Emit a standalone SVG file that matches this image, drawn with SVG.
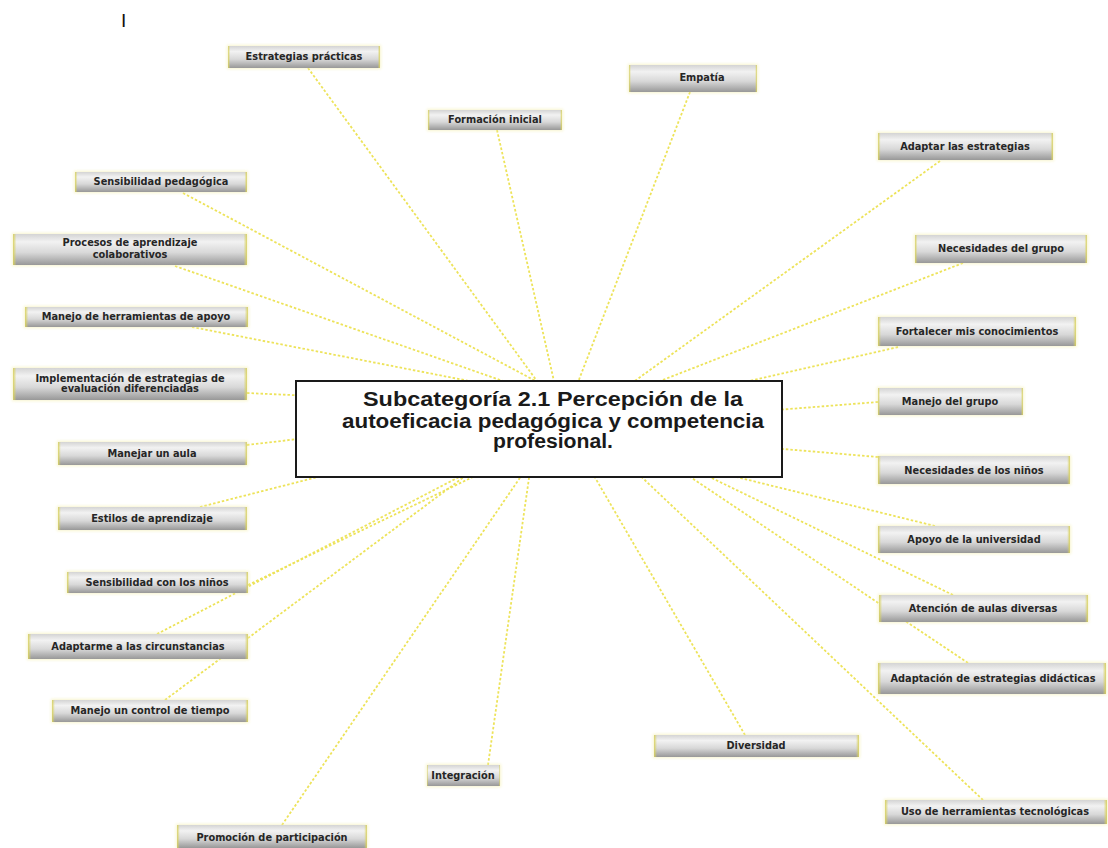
<svg xmlns="http://www.w3.org/2000/svg" width="1108" height="848" viewBox="0 0 1108 848">
  <defs>
    <linearGradient id="nodeFill" x1="0" y1="0" x2="0" y2="1">
      <stop offset="0" stop-color="#d4d4d4"/>
      <stop offset="0.25" stop-color="#f2f2f2"/>
      <stop offset="0.6" stop-color="#d8d8d8"/>
      <stop offset="1" stop-color="#989898"/>
    </linearGradient>
    <linearGradient id="nodeEnds" x1="0" y1="0" x2="1" y2="0">
      <stop offset="0" stop-color="#d9d25e" stop-opacity="0.95"/>
      <stop offset="0.015" stop-color="#d9d25e" stop-opacity="0"/>
      <stop offset="0.985" stop-color="#d9d25e" stop-opacity="0"/>
      <stop offset="1" stop-color="#d9d25e" stop-opacity="0.95"/>
    </linearGradient>
    <filter id="glow" x="-10%" y="-40%" width="120%" height="180%">
      <feGaussianBlur stdDeviation="1.6"/>
    </filter>
  </defs>
  <style>
    .edge { stroke: #ede35a; stroke-width: 1.8; stroke-dasharray: 2.5 2; fill: none; }
    .halo { fill: #f3eea6; opacity: 0.55; filter: url(#glow); }
    .box { fill: url(#nodeFill); }
    .ends { fill: url(#nodeEnds); }
    .lbl { font-family: "DejaVu Sans", Verdana, sans-serif; font-weight: bold; font-size: 9.8px; fill: #262626; text-anchor: middle; }
    .hub { fill: #ffffff; stroke: #1a1a1a; stroke-width: 2; }
    .hubtxt { font-family: "Liberation Sans", Arial, sans-serif; font-weight: bold; font-size: 20px; fill: #1a1a1a; text-anchor: middle; }
  </style>

  <rect width="1108" height="848" fill="#ffffff"/>

  <text x="121" y="27" font-family="Liberation Sans, Arial, sans-serif" font-size="19" fill="#111">I</text>

  <!-- spokes from each topic to the hub -->
  <g id="connectors">
    <line class="edge" x1="308" y1="68" x2="545" y2="392"/>
    <line class="edge" x1="497" y1="130" x2="556" y2="390"/>
    <line class="edge" x1="690" y1="92" x2="575" y2="390"/>
    <line class="edge" x1="940" y1="161" x2="600" y2="406"/>
    <line class="edge" x1="963" y1="263" x2="560" y2="420"/>
    <line class="edge" x1="898" y1="347" x2="600" y2="415"/>
    <line class="edge" x1="878" y1="402" x2="700" y2="416"/>
    <line class="edge" x1="878" y1="457" x2="700" y2="442"/>
    <line class="edge" x1="935" y1="526" x2="700" y2="468"/>
    <line class="edge" x1="953" y1="595" x2="654" y2="450"/>
    <line class="edge" x1="968" y1="663" x2="650" y2="450"/>
    <line class="edge" x1="983" y1="800" x2="613" y2="450"/>
    <line class="edge" x1="745" y1="735" x2="579" y2="450"/>
    <line class="edge" x1="488" y1="765" x2="533" y2="450"/>
    <line class="edge" x1="282" y1="825" x2="539" y2="450"/>
    <line class="edge" x1="165" y1="700" x2="500" y2="450"/>
    <line class="edge" x1="157" y1="634" x2="511" y2="450"/>
    <line class="edge" x1="248" y1="585" x2="529" y2="450"/>
    <line class="edge" x1="200" y1="507" x2="400" y2="456"/>
    <line class="edge" x1="247" y1="445" x2="400" y2="427"/>
    <line class="edge" x1="247" y1="393" x2="400" y2="400"/>
    <line class="edge" x1="192" y1="327" x2="500" y2="387"/>
    <line class="edge" x1="175" y1="266" x2="520" y2="387"/>
    <line class="edge" x1="183" y1="193" x2="545" y2="386"/>
  </g>

  <g id="hub">
    <rect class="hub" x="296" y="381" width="486" height="96"/>
    <text class="hubtxt" x="553" y="406" textLength="380" lengthAdjust="spacingAndGlyphs">Subcategoría 2.1 Percepción de la</text>
    <text class="hubtxt" x="553" y="428" textLength="422" lengthAdjust="spacingAndGlyphs">autoeficacia pedagógica y competencia</text>
    <text class="hubtxt" x="553" y="448" textLength="120" lengthAdjust="spacingAndGlyphs">profesional.</text>
  </g>

  <g id="n-estrategias-practicas">
    <rect class="halo" x="227" y="45" width="154" height="24"/>
    <rect class="box" x="228" y="46" width="152" height="22"/><rect class="ends" x="228" y="46" width="152" height="22"/>
    <text class="lbl" x="304" y="60">Estrategias prácticas</text>
  </g>
  <g id="n-empatia">
    <rect class="halo" x="628" y="64" width="130" height="29"/>
    <rect class="box" x="629" y="65" width="128" height="27"/><rect class="ends" x="629" y="65" width="128" height="27"/>
    <text class="lbl" x="702" y="81">Empatía</text>
  </g>
  <g id="n-formacion-inicial">
    <rect class="halo" x="427" y="109" width="136" height="22"/>
    <rect class="box" x="428" y="110" width="134" height="20"/><rect class="ends" x="428" y="110" width="134" height="20"/>
    <text class="lbl" x="495" y="123">Formación inicial</text>
  </g>
  <g id="n-adaptar-estrategias">
    <rect class="halo" x="877" y="132" width="177" height="29"/>
    <rect class="box" x="878" y="133" width="175" height="27"/><rect class="ends" x="878" y="133" width="175" height="27"/>
    <text class="lbl" x="965" y="150">Adaptar las estrategias</text>
  </g>
  <g id="n-necesidades-grupo">
    <rect class="halo" x="914" y="234" width="174" height="30"/>
    <rect class="box" x="915" y="235" width="172" height="28"/><rect class="ends" x="915" y="235" width="172" height="28"/>
    <text class="lbl" x="1001" y="252">Necesidades del grupo</text>
  </g>
  <g id="n-sensibilidad-pedagogica">
    <rect class="halo" x="74" y="171" width="174" height="22"/>
    <rect class="box" x="75" y="172" width="172" height="20"/><rect class="ends" x="75" y="172" width="172" height="20"/>
    <text class="lbl" x="161" y="185">Sensibilidad pedagógica</text>
  </g>
  <g id="n-procesos-colaborativos">
    <rect class="halo" x="12" y="233" width="236" height="33"/>
    <rect class="box" x="13" y="234" width="234" height="31"/><rect class="ends" x="13" y="234" width="234" height="31"/>
    <text class="lbl" x="130" y="246">Procesos de aprendizaje</text>
    <text class="lbl" x="130" y="258">colaborativos</text>
  </g>
  <g id="n-herramientas-apoyo">
    <rect class="halo" x="24" y="306" width="225" height="22"/>
    <rect class="box" x="25" y="307" width="223" height="20"/><rect class="ends" x="25" y="307" width="223" height="20"/>
    <text class="lbl" x="136" y="320">Manejo de herramientas de apoyo</text>
  </g>
  <g id="n-evaluacion-diferenciada">
    <rect class="halo" x="12" y="367" width="236" height="34"/>
    <rect class="box" x="13" y="368" width="234" height="32"/><rect class="ends" x="13" y="368" width="234" height="32"/>
    <text class="lbl" x="130" y="382">Implementación de estrategias de</text>
    <text class="lbl" x="130" y="392">evaluación diferenciadas</text>
  </g>
  <g id="n-manejar-aula">
    <rect class="halo" x="57" y="441" width="191" height="25"/>
    <rect class="box" x="58" y="442" width="189" height="23"/><rect class="ends" x="58" y="442" width="189" height="23"/>
    <text class="lbl" x="152" y="457">Manejar un aula</text>
  </g>
  <g id="n-estilos-aprendizaje">
    <rect class="halo" x="57" y="506" width="191" height="25"/>
    <rect class="box" x="58" y="507" width="189" height="23"/><rect class="ends" x="58" y="507" width="189" height="23"/>
    <text class="lbl" x="152" y="522">Estilos de aprendizaje</text>
  </g>
  <g id="n-sensibilidad-ninos">
    <rect class="halo" x="66" y="571" width="183" height="23"/>
    <rect class="box" x="67" y="572" width="181" height="21"/><rect class="ends" x="67" y="572" width="181" height="21"/>
    <text class="lbl" x="157" y="586">Sensibilidad con los niños</text>
  </g>
  <g id="n-adaptarme-circunstancias">
    <rect class="halo" x="27" y="633" width="222" height="27"/>
    <rect class="box" x="28" y="634" width="220" height="25"/><rect class="ends" x="28" y="634" width="220" height="25"/>
    <text class="lbl" x="138" y="650">Adaptarme a las circunstancias</text>
  </g>
  <g id="n-control-tiempo">
    <rect class="halo" x="51" y="699" width="198" height="24"/>
    <rect class="box" x="52" y="700" width="196" height="22"/><rect class="ends" x="52" y="700" width="196" height="22"/>
    <text class="lbl" x="150" y="714">Manejo un control de tiempo</text>
  </g>
  <g id="n-fortalecer-conocimientos">
    <rect class="halo" x="877" y="316" width="200" height="31"/>
    <rect class="box" x="878" y="317" width="198" height="29"/><rect class="ends" x="878" y="317" width="198" height="29"/>
    <text class="lbl" x="977" y="335">Fortalecer mis conocimientos</text>
  </g>
  <g id="n-manejo-grupo">
    <rect class="halo" x="877" y="387" width="147" height="29"/>
    <rect class="box" x="878" y="388" width="145" height="27"/><rect class="ends" x="878" y="388" width="145" height="27"/>
    <text class="lbl" x="950" y="405">Manejo del grupo</text>
  </g>
  <g id="n-necesidades-ninos">
    <rect class="halo" x="877" y="455" width="194" height="30"/>
    <rect class="box" x="878" y="456" width="192" height="28"/><rect class="ends" x="878" y="456" width="192" height="28"/>
    <text class="lbl" x="974" y="474">Necesidades de los niños</text>
  </g>
  <g id="n-apoyo-universidad">
    <rect class="halo" x="877" y="525" width="194" height="29"/>
    <rect class="box" x="878" y="526" width="192" height="27"/><rect class="ends" x="878" y="526" width="192" height="27"/>
    <text class="lbl" x="974" y="543">Apoyo de la universidad</text>
  </g>
  <g id="n-aulas-diversas">
    <rect class="halo" x="878" y="594" width="211" height="29"/>
    <rect class="box" x="879" y="595" width="209" height="27"/><rect class="ends" x="879" y="595" width="209" height="27"/>
    <text class="lbl" x="983" y="612">Atención de aulas diversas</text>
  </g>
  <g id="n-estrategias-didacticas">
    <rect class="halo" x="877" y="662" width="230" height="33"/>
    <rect class="box" x="878" y="663" width="228" height="31"/><rect class="ends" x="878" y="663" width="228" height="31"/>
    <text class="lbl" x="993" y="682">Adaptación de estrategias didácticas</text>
  </g>
  <g id="n-promocion-participacion">
    <rect class="halo" x="176" y="824" width="192" height="25"/>
    <rect class="box" x="177" y="825" width="190" height="23"/><rect class="ends" x="177" y="825" width="190" height="23"/>
    <text class="lbl" x="272" y="841">Promoción de participación</text>
  </g>
  <g id="n-integracion">
    <rect class="halo" x="426" y="764" width="75" height="23"/>
    <rect class="box" x="427" y="765" width="73" height="21"/><rect class="ends" x="427" y="765" width="73" height="21"/>
    <text class="lbl" x="463" y="779">Integración</text>
  </g>
  <g id="n-diversidad">
    <rect class="halo" x="653" y="734" width="207" height="24"/>
    <rect class="box" x="654" y="735" width="205" height="22"/><rect class="ends" x="654" y="735" width="205" height="22"/>
    <text class="lbl" x="756" y="749">Diversidad</text>
  </g>
  <g id="n-herramientas-tecnologicas">
    <rect class="halo" x="884" y="799" width="224" height="26"/>
    <rect class="box" x="885" y="800" width="222" height="24"/><rect class="ends" x="885" y="800" width="222" height="24"/>
    <text class="lbl" x="995" y="815">Uso de herramientas tecnológicas</text>
  </g>
</svg>
